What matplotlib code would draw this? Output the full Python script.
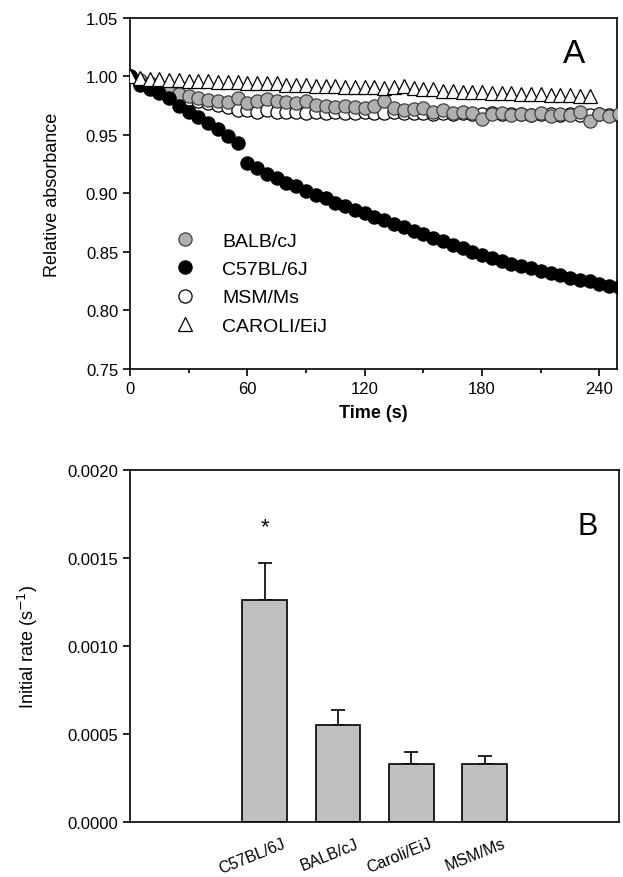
import numpy as np
import matplotlib
matplotlib.use("Agg")
import matplotlib.pyplot as plt
from matplotlib.ticker import MultipleLocator, FormatStrFormatter

plt.rcParams['font.family'] = ['Liberation Sans', 'DejaVu Sans']

# Panel A: relative absorbance vs time (s), read every 5 s
t_circ = np.arange(0, 251, 5)
t_tri = np.arange(0, 236, 5)

balb = [1.000, 0.997, 0.994, 0.991, 0.988, 0.985, 0.983, 0.982, 0.980, 0.979,
        0.978, 0.982, 0.977, 0.979, 0.981, 0.979, 0.978, 0.977, 0.979, 0.976,
        0.975, 0.974, 0.975, 0.974, 0.973, 0.975, 0.979, 0.973, 0.971, 0.972,
        0.973, 0.970, 0.971, 0.969, 0.970, 0.969, 0.964, 0.968, 0.969, 0.967,
        0.968, 0.967, 0.969, 0.966, 0.968, 0.967, 0.970, 0.962, 0.968, 0.966,
        0.968]
c57 = [1.000, 0.993, 0.989, 0.986, 0.982, 0.975, 0.970, 0.965, 0.960, 0.955,
       0.949, 0.943, 0.926, 0.922, 0.917, 0.913, 0.909, 0.906, 0.902, 0.899,
       0.896, 0.892, 0.889, 0.886, 0.883, 0.880, 0.877, 0.874, 0.871, 0.868,
       0.865, 0.862, 0.859, 0.856, 0.853, 0.850, 0.847, 0.845, 0.842, 0.840,
       0.838, 0.836, 0.834, 0.832, 0.830, 0.828, 0.826, 0.825, 0.823, 0.821,
       0.820]
msm = [1.000, 0.996, 0.993, 0.990, 0.987, 0.984, 0.981, 0.979, 0.977, 0.976,
       0.974, 0.971, 0.971, 0.970, 0.971, 0.970, 0.970, 0.970, 0.969, 0.970,
       0.969, 0.970, 0.969, 0.969, 0.970, 0.969, 0.969, 0.970, 0.969, 0.969,
       0.969, 0.968, 0.969, 0.968, 0.969, 0.968, 0.968, 0.969, 0.968, 0.968,
       0.968, 0.967, 0.968, 0.968, 0.967, 0.968, 0.967, 0.967, 0.968, 0.967,
       0.967]
caroli = [1.000, 0.999, 0.998, 0.998, 0.997, 0.997, 0.996, 0.996, 0.996, 0.995,
          0.995, 0.995, 0.994, 0.994, 0.994, 0.994, 0.993, 0.993, 0.993, 0.992,
          0.992, 0.992, 0.991, 0.991, 0.991, 0.991, 0.990, 0.991, 0.992, 0.990,
          0.989, 0.989, 0.988, 0.988, 0.987, 0.987, 0.987, 0.986, 0.986, 0.986,
          0.985, 0.985, 0.985, 0.984, 0.984, 0.984, 0.983, 0.983]

# Panel B: initial rates
strains = ['C57BL/6J', 'BALB/cJ', 'Caroli/EiJ', 'MSM/Ms']
rates = [0.00126, 0.00055, 0.00033, 0.00033]
rate_err = [0.00021, 0.000087, 0.000068, 0.000045]

fig = plt.figure(figsize=(6.23, 8.78), dpi=100)
ax1 = fig.add_axes([0.2087, 0.5786, 0.7817, 0.3998])
ax2 = fig.add_axes([0.2087, 0.063, 0.785, 0.4006])

ms = 9.5
ax1.plot(t_circ, msm, 'o', ms=ms, mfc='white', mec='black', mew=0.9, label='MSM/Ms', zorder=2)
ax1.plot(t_circ, balb, 'o', ms=ms, mfc='#b0b0b0', mec='#404040', mew=0.9, label='BALB/cJ', zorder=3)
ax1.plot(t_circ, c57, 'o', ms=ms, mfc='black', mec='black', mew=0.9, label='C57BL/6J', zorder=4)
ax1.plot(t_tri, caroli, '^', ms=ms + 0.5, mfc='white', mec='black', mew=0.9, label='CAROLI/EiJ', zorder=5)

ax1.set_xlim(0, 249)
ax1.set_ylim(0.75, 1.05)
ax1.xaxis.set_major_locator(MultipleLocator(60))
ax1.xaxis.set_minor_locator(MultipleLocator(30))
ax1.yaxis.set_major_locator(MultipleLocator(0.05))
ax1.yaxis.set_major_formatter(FormatStrFormatter('%.2f'))
ax1.tick_params(axis='both', labelsize=12, direction='out', length=5, width=1.2)
ax1.tick_params(axis='x', which='minor', length=3, width=1.2)
ax1.set_xlabel('Time (s)', fontsize=13, fontweight='bold', labelpad=6)
ax1.set_ylabel('Relative absorbance', fontsize=13, labelpad=18)
ax1.text(0.912, 0.90, 'A', transform=ax1.transAxes, fontsize=24, ha='center', va='center')

handles, labels = ax1.get_legend_handles_labels()
order = [1, 2, 0, 3]
ax1.legend([handles[i] for i in order], [labels[i] for i in order],
           loc='upper left', bbox_to_anchor=(0.093, 0.39), frameon=False,
           fontsize=14, handlelength=1.0, handletextpad=1.4, labelspacing=0.55,
           borderpad=0, borderaxespad=0, numpoints=1)

x = np.arange(len(strains))
ax2.bar(x, rates, width=0.61, color='#c0c0c0', edgecolor='black', linewidth=1.2, zorder=2)
ax2.errorbar(x, rates, yerr=[np.zeros(len(rates)), rate_err], fmt='none',
             ecolor='black', elinewidth=1.2, capsize=5, capthick=1.2, zorder=1)
ax2.text(x[0], 0.00168, '*', ha='center', va='center', fontsize=16)
ax2.set_xlim(-1.835, 4.835)
ax2.set_ylim(0, 0.002)
ax2.yaxis.set_major_locator(MultipleLocator(0.0005))
ax2.yaxis.set_major_formatter(FormatStrFormatter('%.4f'))
# tick marks are hidden, so the label anchors sit a little right of each bar
ax2.set_xticks(x + 0.24)
ax2.set_xticklabels(strains, rotation=22, ha='right', rotation_mode='anchor', fontsize=11.5)
ax2.tick_params(axis='x', length=0, pad=10)
ax2.tick_params(axis='y', labelsize=12, direction='out', length=5, width=1.2)
ax2.set_ylabel('Initial rate (s$^{-1}$)', fontsize=13, labelpad=20)
ax2.text(0.935, 0.84, 'B', transform=ax2.transAxes, fontsize=22, ha='center', va='center')

for ax in (ax1, ax2):
    for s in ax.spines.values():
        s.set_linewidth(1.2)

fig.savefig('out.png', dpi=100)
